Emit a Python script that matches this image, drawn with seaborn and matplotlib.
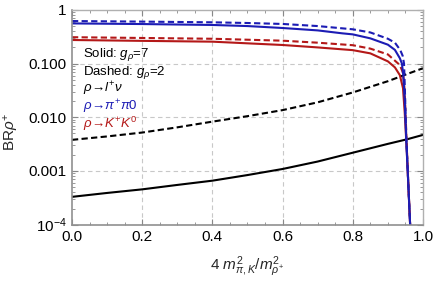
import numpy as np
import pandas as pd
import seaborn as sns
import matplotlib.pyplot as plt
from matplotlib.ticker import LogLocator, MultipleLocator, NullFormatter

# -----------------------------
# DATA
# -----------------------------
x_pi_solid = [0, 0.2, 0.4, 0.5, 0.6, 0.7, 0.77, 0.8, 0.85, 0.9, 0.92, 0.934, 0.94, 0.944, 0.948, 0.953, 0.958, 0.964]
br_pi_solid = [0.56, 0.545, 0.524, 0.50, 0.46, 0.415, 0.366, 0.35, 0.295, 0.225, 0.18, 0.126, 0.10, 0.06, 0.02, 0.003, 0.0006, 0.00008]

x_pi_dashed = [0, 0.2, 0.4, 0.5, 0.6, 0.7, 0.8, 0.85, 0.9, 0.92, 0.935, 0.942, 0.946, 0.948, 0.952, 0.958, 0.964]
br_pi_dashed = [0.62, 0.605, 0.587, 0.57, 0.547, 0.50, 0.435, 0.38, 0.29, 0.245, 0.18, 0.14, 0.10, 0.04, 0.005, 0.0006, 0.00008]

x_k_solid = [0, 0.2, 0.4, 0.6, 0.7, 0.8, 0.85, 0.9, 0.92, 0.934, 0.943, 0.948, 0.953, 0.958, 0.964]
br_k_solid = [0.275, 0.265, 0.256, 0.222, 0.20, 0.178, 0.155, 0.11, 0.085, 0.061, 0.035, 0.012, 0.003, 0.0006, 0.00008]

x_k_dashed = [0, 0.2, 0.4, 0.6, 0.7, 0.8, 0.85, 0.9, 0.934, 0.942, 0.946, 0.949, 0.953, 0.958, 0.964]
br_k_dashed = [0.31, 0.30, 0.29, 0.267, 0.245, 0.22, 0.19, 0.148, 0.094, 0.07, 0.045, 0.02, 0.004, 0.0006, 0.00008]

x_lep = [0, 0.1, 0.2, 0.3, 0.4, 0.5, 0.6, 0.7, 0.8, 0.9, 0.955, 1.0]
br_lep_solid = [3.3e-4, 3.9e-4, 4.55e-4, 5.5e-4, 6.6e-4, 8.4e-4, 1.09e-3, 1.5e-3, 2.19e-3, 3.2e-3, 3.9e-3, 4.7e-3]
br_lep_dashed = [3.8e-3, 4.4e-3, 5.2e-3, 6.5e-3, 8.3e-3, 0.0105, 0.0136, 0.019, 0.029, 0.047, 0.064, 0.082]

xtick_vals = [0.0, 0.2, 0.4, 0.6, 0.8, 1.0]
xtick_labels = ['0.0', '0.2', '0.4', '0.6', '0.8', '1.0']
ytick_vals = [1, 0.1, 0.01, 0.001, 1e-4]
ytick_labels = ['1', '0.100', '0.010', '0.001', r'$10^{-4}$']

legend_lines = [r'Solid: $g_{\rho}$=7', r'Dashed: $g_{\rho}$=2', r'$\rho\!\rightarrow\! l^{+}\nu$',
                r'$\rho\!\rightarrow\!\pi^{+}\pi0$', r'$\rho\!\rightarrow\! K^{+}K^{0}$']

# -----------------------------
# STYLE
# -----------------------------
sns.set_style("ticks")
plt.rcParams['font.family'] = ['Liberation Sans', 'DejaVu Sans']
plt.rcParams['mathtext.fontset'] = 'custom'
plt.rcParams['mathtext.rm'] = 'Liberation Sans'
plt.rcParams['mathtext.it'] = 'Liberation Sans:italic'
plt.rcParams['mathtext.bf'] = 'Liberation Sans:bold'

blue = '#1c1cb4'
red = '#b41818'
lw = 1.5
dash = (3, 1.6)

fig = plt.figure(figsize=(4.35, 2.81), dpi=100)
ax = fig.add_axes([0.1655, 0.2004, 0.9724 - 0.1655, 0.9648 - 0.2004])

# -----------------------------
# LINES
# -----------------------------
sns.lineplot(x=x_lep, y=br_lep_solid, ax=ax, color='black', lw=lw)
sns.lineplot(x=x_lep, y=br_lep_dashed, ax=ax, color='black', lw=lw)
sns.lineplot(x=x_k_solid, y=br_k_solid, ax=ax, color=red, lw=lw)
sns.lineplot(x=x_k_dashed, y=br_k_dashed, ax=ax, color=red, lw=lw)
sns.lineplot(x=x_pi_solid, y=br_pi_solid, ax=ax, color=blue, lw=lw)
sns.lineplot(x=x_pi_dashed, y=br_pi_dashed, ax=ax, color=blue, lw=lw)
for ln in ax.lines[1::2]:
    ln.set_dashes(dash)

ax.set_yscale('log')
ax.set_xlim(0, 1)
ax.set_ylim(1e-4, 1)

# -----------------------------
# TICKS / GRID / FRAME
# -----------------------------
ax.set_yticks(ytick_vals)
ax.set_yticklabels(ytick_labels)
ax.yaxis.set_minor_locator(LogLocator(base=10, subs=np.arange(2, 10)))
ax.yaxis.set_minor_formatter(NullFormatter())
ax.set_xticks(xtick_vals)
ax.set_xticklabels(xtick_labels)
ax.xaxis.set_minor_locator(MultipleLocator(0.05))

ax.tick_params(which='both', direction='in', top=True, right=True,
               color='#888888', labelsize=11, labelcolor='black', pad=4)
ax.tick_params(which='major', length=4, width=0.8)
ax.tick_params(which='minor', length=2, width=0.6)

for xv in [0.2, 0.4, 0.6, 0.8]:
    ax.axvline(xv, color='#c8c8c8', lw=0.8, ls=(0, (4, 3)), zorder=0)
for yv in [0.1, 0.01, 0.001]:
    ax.axhline(yv, color='#c8c8c8', lw=0.8, ls=(0, (4, 3)), zorder=0)

for side in ['left', 'bottom']:
    ax.spines[side].set_color('#909090')
    ax.spines[side].set_linewidth(1.2)
for side in ['top', 'right']:
    ax.spines[side].set_color('#b0b0b0')
    ax.spines[side].set_linewidth(1.0)

ax.set_xlabel(r'4 $m^2_{\pi,K}/m^2_{\rho^{+}}$', fontsize=11, labelpad=7)
ax.set_ylabel(r'BR$\rho^{+}$', fontsize=11, labelpad=2)
ax.yaxis.set_label_coords(-0.145, 0.43)

# -----------------------------
# TEXT LEGEND
# -----------------------------
colors = ['black', 'black', 'black', blue, red]
ypos = [0.79, 0.71, 0.63, 0.55, 0.47]
for s, c, yy in zip(legend_lines, colors, ypos):
    ax.text(0.03, yy, s, transform=ax.transAxes, fontsize=9.5, va='center', color=c)

fig.savefig('out.png', dpi=100)
